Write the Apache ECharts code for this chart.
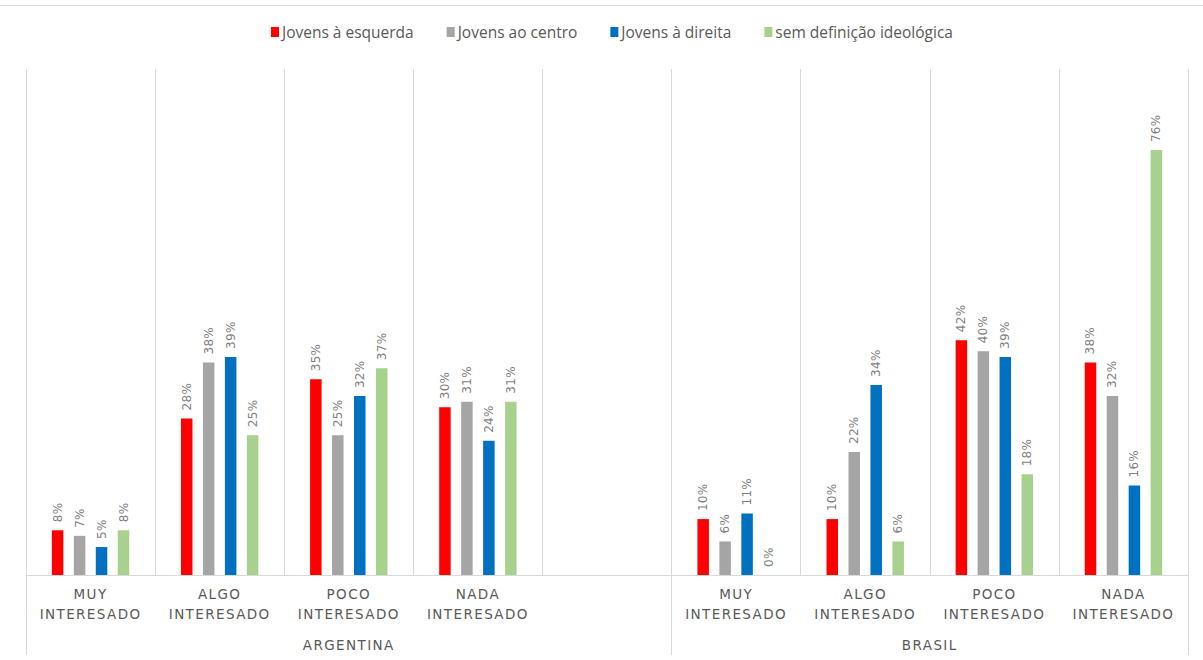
<!DOCTYPE html>
<html>
<head>
<meta charset="utf-8">
<script src="https://cdn.jsdelivr.net/npm/echarts@6/dist/echarts.min.js"></script>
<style>
  html, body { margin: 0; padding: 0; background: #ffffff; }
  #chart { width: 1203px; height: 660px; }
</style>
</head>
<body>
<div id="chart"></div>
<script>
// Interest level categories; the empty slot separates the two countries
const categories = [
  'MUY\nINTERESADO', 'ALGO\nINTERESADO', 'POCO\nINTERESADO', 'NADA\nINTERESADO',
  '',
  'MUY\nINTERESADO', 'ALGO\nINTERESADO', 'POCO\nINTERESADO', 'NADA\nINTERESADO'
];

// Country groups: name and how many category slots each spans
const groupNames = ['ARGENTINA', 'BRASIL'];
const groupSpans = [5, 4];

const seriesNames = ['Jovens à esquerda', 'Jovens ao centro', 'Jovens à direita', 'sem definição ideológica'];

// Percentages per category slot ('-' = empty slot)
const esquerda = [8, 28, 35, 30, '-', 10, 10, 42, 38];
const centro   = [7, 38, 25, 31, '-', 6, 22, 40, 32];
const direita  = [5, 39, 32, 24, '-', 11, 34, 39, 16];
const semDef   = [8, 25, 37, 31, '-', 0, 6, 18, 76];

const colors = ['#FF0000', '#A5A5A5', '#0070C0', '#A9D18E'];
const seriesData = [esquerda, centro, direita, semDef];

// Group boundaries and centres on a 0..N scale of category slots
const groupBounds = [0];
groupSpans.forEach(s => groupBounds.push(groupBounds[groupBounds.length - 1] + s));
const groupCenters = groupSpans.map((s, i) => groupBounds[i] + s / 2);

const chart = echarts.init(document.getElementById('chart'), null, { renderer: 'svg' });

const gridLine = '#D9D9D9';
const textGray = '#595959';
const AXIS_FONT_SIZE = 13.5;
const VALUE_FONT_SIZE = 12;

chart.setOption({
  animation: false,
  color: colors,
  legend: {
    top: 19,
    left: 266,
    itemWidth: 8,
    itemHeight: 10,
    itemGap: 33,
    icon: 'rect',
    textStyle: { color: textGray, fontFamily: 'Open Sans', fontSize: 15.5, padding: [0, 0, 0, -2] },
    data: seriesNames
  },
  grid: { left: 26, right: 15, top: 69, bottom: 85, containLabel: false },
  xAxis: [
    {
      type: 'category',
      data: categories,
      position: 'bottom',
      axisLine: { lineStyle: { color: gridLine, width: 1 } },
      axisTick: { show: false },
      splitLine: { show: true, lineStyle: { color: gridLine, width: 1 } },
      axisLabel: {
        interval: 0,
        color: textGray,
        fontFamily: 'DejaVu Sans',
        fontSize: AXIS_FONT_SIZE,
        lineHeight: 20,
        margin: 9
      }
    },
    {
      type: 'value',
      min: 0,
      max: categories.length,
      position: 'bottom',
      axisLine: { show: false },
      splitLine: { show: false },
      axisTick: {
        show: true,
        customValues: groupBounds,
        length: 80,
        lineStyle: { color: gridLine, width: 1 }
      },
      axisLabel: {
        customValues: groupCenters,
        formatter: v => groupNames[groupCenters.indexOf(v)],
        color: textGray,
        fontFamily: 'DejaVu Sans',
        fontSize: AXIS_FONT_SIZE,
        margin: 63
      }
    }
  ],
  yAxis: {
    type: 'value',
    min: 0,
    max: 90.5,
    show: false,
    splitLine: { show: false }
  },
  graphic: [
    {
      type: 'line',
      shape: { x1: 0, y1: 5.5, x2: 1203, y2: 5.5 },
      style: { stroke: gridLine, lineWidth: 1 },
      silent: true
    }
  ],
  series: seriesNames.map((name, i) => ({
    name: name,
    type: 'bar',
    xAxisIndex: 0,
    data: seriesData[i],
    barWidth: 11.5,
    barGap: '91%',
    itemStyle: { color: colors[i] },
    label: {
      show: true,
      position: 'top',
      rotate: 90,
      align: 'left',
      verticalAlign: 'middle',
      distance: 8,
      formatter: '{c}%',
      color: '#7F7F7F',
      fontFamily: 'DejaVu Sans',
      fontSize: VALUE_FONT_SIZE
    }
  }))
});

// Spaced-out lettering for the axis captions
document.querySelectorAll('#chart svg text').forEach(t => {
  const size = parseFloat(getComputedStyle(t).fontSize);
  if (Math.abs(size - AXIS_FONT_SIZE) < 0.01) {
    t.setAttribute('letter-spacing', '1.4');
  } else if (Math.abs(size - VALUE_FONT_SIZE) < 0.01) {
    t.setAttribute('letter-spacing', '0.3');
  }
});
</script>
</body>
</html>
